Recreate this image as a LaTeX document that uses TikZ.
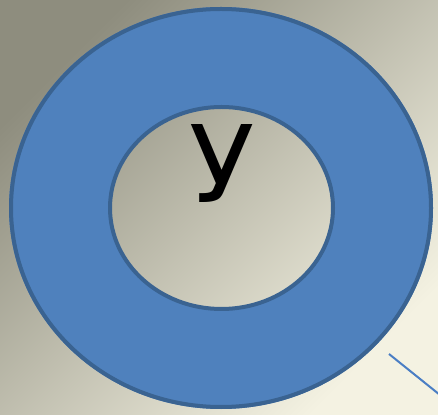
\documentclass[tikz,border=0pt]{standalone}
\usepackage{fontspec}
\newfontfamily\dejavu{DejaVu Sans}
\definecolor{bgdark}{HTML}{8E8D7E}
\definecolor{bglight}{HTML}{F4F2E2}
\definecolor{ringfill}{HTML}{4F81BD}
\definecolor{ringedge}{HTML}{3A6391}
\definecolor{linecol}{HTML}{4A7EC4}
\tikzset{
  ringedgestyle/.style={draw=ringedge, line width=4pt},
  letterstyle/.style={font=\dejavu\fontsize{107}{107}\selectfont, text=black, inner sep=0pt},
  connstyle/.style={draw=linecol, line width=2pt}
}
\begin{document}
\begin{tikzpicture}[x=1pt,y=1pt]
\useasboundingbox (0,0) rectangle (438,414);
\shade[shading=axis, top color=bgdark, bottom color=bglight, shading angle=45] (0,0) rectangle (438,414);
\fill[ringfill, even odd rule] (221,206) ellipse [x radius=212, y radius=201] (221.5,206) ellipse [x radius=111.5, y radius=101];
\draw[ringedgestyle] (221,206) ellipse [x radius=210, y radius=199];
\draw[ringedgestyle] (221.5,206) ellipse [x radius=111.5, y radius=101];
\node[letterstyle, anchor=base] (u) at (222,211) {У};
\coordinate (la) at (389,60);
\coordinate (lb) at (440,19);
\draw[connstyle] (la) -- (lb);
\end{tikzpicture}
\end{document}
